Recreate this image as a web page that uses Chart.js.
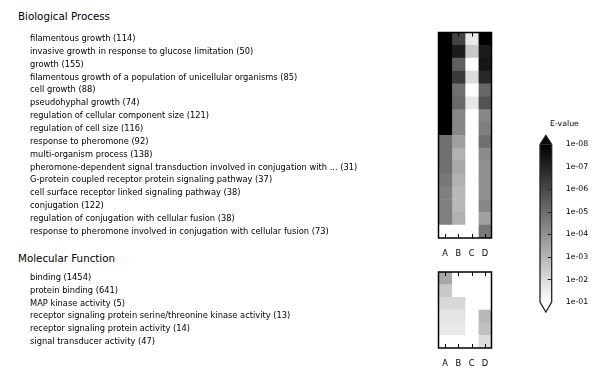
<!DOCTYPE html>
<html>
<head>
<meta charset="utf-8">
<script src="https://cdn.jsdelivr.net/npm/chart.js@4/dist/chart.umd.min.js"></script>
<style>
  body { margin: 0; background: #fff; width: 600px; height: 379px; position: relative; overflow: hidden; font-family: "DejaVu Sans", sans-serif; }
  .panel-title { position: absolute; left: 18px; font-size: 10.3px; line-height: 12px; color: #000; white-space: nowrap; }
  canvas { position: absolute; }
</style>
</head>
<body>
<div class="panel-title" style="top: 9.5px">Biological Process</div>
<div class="panel-title" style="top: 252px">Molecular Function</div>
<canvas id="bp_chart" width="520" height="262" style="left: 0; top: 0"></canvas>
<canvas id="mf_chart" width="520" height="110" style="left: 0; top: 262px"></canvas>
<canvas id="cbar_chart" width="69" height="204" style="left: 520px; top: 110px"></canvas>
<script>
// column (sample) names
var colLabels = ['A', 'B', 'C', 'D'];

// Biological Process terms
var bpLabels = [
  'filamentous growth (114)',
  'invasive growth in response to glucose limitation (50)',
  'growth (155)',
  'filamentous growth of a population of unicellular organisms (85)',
  'cell growth (88)',
  'pseudohyphal growth (74)',
  'regulation of cellular component size (121)',
  'regulation of cell size (116)',
  'response to pheromone (92)',
  'multi-organism process (138)',
  'pheromone-dependent signal transduction involved in conjugation with ... (31)',
  'G-protein coupled receptor protein signaling pathway (37)',
  'cell surface receptor linked signaling pathway (38)',
  'conjugation (122)',
  'regulation of conjugation with cellular fusion (38)',
  'response to pheromone involved in conjugation with cellular fusion (73)'
];
// E-values per column, null = not significant (white)
var bpA = [1e-9, 1e-9, 1e-9, 1e-9, 1e-9, 1e-9, 1e-9, 1e-9, 1.2e-5, 1.2e-5, 1.2e-5, 2e-5, 3e-5, 3e-5, 3e-5, null];
var bpB = [7e-7, 6e-8, 4e-6, 4e-7, 1.2e-5, 7e-6, 5e-5, 5e-5, 2.5e-4, 7e-4, 4e-4, 7e-4, 1.1e-3, 1.1e-3, 7e-4, null];
var bpC = [2.3e-2, 3e-3, null, 1.1e-2, null, 2.3e-2, null, null, null, null, null, null, null, null, null, null];
var bpD = [1e-9, 6e-8, 4e-8, 1.3e-7, 7e-6, 2e-6, 5e-5, 3e-5, 1.2e-5, 7e-5, 9e-5, 9e-5, 9e-5, 5e-5, 2.5e-4, 2e-5];

// Molecular Function terms
var mfLabels = [
  'binding (1454)',
  'protein binding (641)',
  'MAP kinase activity (5)',
  'receptor signaling protein serine/threonine kinase activity (13)',
  'receptor signaling protein activity (14)',
  'signal transducer activity (47)'
];
var mfA = [4e-4, 3e-3, 8.5e-3, 1.8e-2, 2.3e-2, null];
var mfB = [null, null, 8.5e-3, 1.8e-2, 2.3e-2, null];
var mfC = [null, null, null, null, null, null];
var mfD = [null, null, null, 1.1e-3, 1.9e-3, 1.1e-2];

// colour bar range and ticks
var cbarMin = 1e-8;
var cbarMax = 1e-1;
var cbarTicks = [1e-8, 1e-7, 1e-6, 1e-5, 1e-4, 1e-3, 1e-2, 1e-1];
var cbarTickLabels = ['1e-08', '1e-07', '1e-06', '1e-05', '1e-04', '1e-03', '1e-02', '1e-01'];

Chart.defaults.font.family = "'DejaVu Sans', sans-serif";
Chart.defaults.color = '#000';

var gray_for = function(evalue) {
  if (evalue == null) return '#ffffff';
  var lo = Math.log10(cbarMin), hi = Math.log10(cbarMax);
  var t = (Math.log10(evalue) - lo) / (hi - lo);
  t = Math.min(1, Math.max(0, t));
  var g = Math.round(255 * t);
  return 'rgb(' + g + ',' + g + ',' + g + ')';
};

// box round the heatmap + inward ticks top and bottom
var heat_frame = {
  id: 'heatFrame',
  afterDatasetsDraw: function(chart) {
    var ctx = chart.ctx, area = chart.chartArea, xs = chart.scales.x;
    ctx.save();
    ctx.strokeStyle = '#000';
    ctx.lineWidth = 1;
    for (let i = 0; i < colLabels.length; i++) {
      var px = Math.round(xs.getPixelForValue(i + 0.5)) + 0.5;
      ctx.beginPath();
      ctx.moveTo(px, area.top);
      ctx.lineTo(px, area.top + 4);
      ctx.moveTo(px, area.bottom);
      ctx.lineTo(px, area.bottom - 4);
      ctx.stroke();
    }
    ctx.lineWidth = 1.5;
    ctx.strokeRect(area.left, area.top, area.width, area.height);
    ctx.restore();
  }
};

make_heatmap_fn = function(canvas_id, row_labels, columns, pad_top) {
  var datasets = [];
  for (let j = 0; j < columns.length; j++) {
    datasets.push({
      data: row_labels.map(function() { return [j, j + 1]; }),
      backgroundColor: columns[j].map(gray_for),
      borderWidth: 0,
      barPercentage: 1,
      categoryPercentage: 1,
      grouped: false
    });
  }
  return new Chart(document.getElementById(canvas_id), {
    type: 'bar',
    data: { labels: row_labels, datasets: datasets },
    options: {
      indexAxis: 'y',
      responsive: false,
      animation: false,
      layout: { padding: { left: 30, top: pad_top, right: 28.5, bottom: 0 } },
      plugins: { legend: { display: false }, tooltip: { enabled: false } },
      scales: {
        x: {
          type: 'linear', min: 0, max: colLabels.length,
          grid: { display: false }, border: { display: false },
          afterBuildTicks: function(scale) {
            scale.ticks = colLabels.map(function(l, i) { return { value: i + 0.5 }; });
          },
          afterFit: function(scale) { scale.height = 24; },
          ticks: {
            autoSkip: false, padding: 2.5, font: { size: 8.3 },
            callback: function(value, index) { return colLabels[index]; }
          }
        },
        y: {
          grid: { display: false }, border: { display: false },
          afterFit: function(scale) { scale.width = 408.5; },
          ticks: { autoSkip: false, crossAlign: 'far', font: { size: 8.3 } }
        }
      }
    },
    plugins: [heat_frame]
  });
};

make_heatmap_fn('bp_chart', bpLabels, [bpA, bpB, bpC, bpD], 32.5);
make_heatmap_fn('mf_chart', mfLabels, [mfA, mfB, mfC, mfD], 10);

// colour bar: extend arrows, inner ticks and outline
var cbar_extras = {
  id: 'cbarExtras',
  afterDatasetsDraw: function(chart) {
    var ctx = chart.ctx, a = chart.chartArea, ys = chart.scales.y;
    var mid = (a.left + a.right) / 2;
    var top = ys.getPixelForValue(cbarMin), bottom = ys.getPixelForValue(cbarMax);
    ctx.save();
    ctx.fillStyle = '#000';
    ctx.beginPath();
    ctx.moveTo(a.left, top); ctx.lineTo(mid, top - 9); ctx.lineTo(a.right, top);
    ctx.closePath(); ctx.fill();
    ctx.fillStyle = '#fff';
    ctx.beginPath();
    ctx.moveTo(a.left, bottom); ctx.lineTo(mid, bottom + 10); ctx.lineTo(a.right, bottom);
    ctx.closePath(); ctx.fill();
    ctx.strokeStyle = '#222';
    ctx.lineWidth = 1;
    for (let i = 1; i < cbarTicks.length - 1; i++) {
      var py = Math.round(ys.getPixelForValue(cbarTicks[i])) + 0.5;
      ctx.beginPath();
      ctx.moveTo(a.right - 4, py);
      ctx.lineTo(a.right, py);
      ctx.stroke();
    }
    ctx.lineWidth = 1.3;
    ctx.beginPath();
    ctx.moveTo(mid, top - 9);
    ctx.lineTo(a.right, top);
    ctx.lineTo(a.right, bottom);
    ctx.lineTo(mid, bottom + 10);
    ctx.lineTo(a.left, bottom);
    ctx.lineTo(a.left, top);
    ctx.closePath();
    ctx.stroke();
    ctx.restore();
  }
};

new Chart(document.getElementById('cbar_chart'), {
  type: 'bar',
  data: {
    labels: [''],
    datasets: [{
      data: [[cbarMin, cbarMax]],
      backgroundColor: function(context) {
        var chart = context.chart, area = chart.chartArea;
        if (!area) return '#888';
        var g = chart.ctx.createLinearGradient(0, area.top, 0, area.bottom);
        g.addColorStop(0, '#000');
        g.addColorStop(1, '#fff');
        return g;
      },
      borderWidth: 0,
      barPercentage: 1,
      categoryPercentage: 1
    }]
  },
  options: {
    responsive: false,
    animation: false,
    layout: { padding: { left: 20, top: 0, right: 0, bottom: 12 } },
    plugins: {
      legend: { display: false },
      tooltip: { enabled: false },
      title: {
        display: true, text: 'E-value', color: '#000',
        font: { size: 7.8, weight: 'normal' },
        padding: { top: 9, bottom: 16 }
      }
    },
    scales: {
      x: { display: false },
      y: {
        type: 'logarithmic', position: 'right', reverse: true,
        min: cbarMin, max: cbarMax,
        grid: { display: false }, border: { display: false },
        afterBuildTicks: function(scale) {
          scale.ticks = cbarTicks.map(function(v) { return { value: v }; });
        },
        afterFit: function(scale) { scale.width = 37.3; },
        ticks: {
          padding: 6, font: { size: 7.8 },
          callback: function(value, index) { return cbarTickLabels[index]; }
        }
      }
    }
  },
  plugins: [cbar_extras]
});
</script>
</body>
</html>
